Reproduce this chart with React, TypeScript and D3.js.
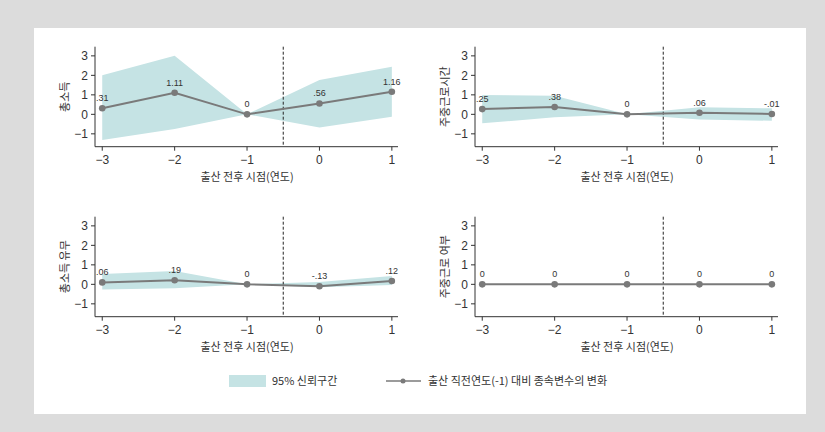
import React from "react";
import * as d3 from "d3";

const years = [-3, -2, -1, 0, 1];
const yTicks = [-1, 0, 1, 2, 3];
const xTicks = [-3, -2, -1, 0, 1];

const titles = ["총소득", "주중근로시간", "총소득 유무", "주중근로 여부"];
const values1 = [0.31, 1.11, 0, 0.56, 1.16];
const lower1 = [-1.32, -0.75, 0, -0.67, -0.12];
const upper1 = [2.01, 3.0, 0, 1.76, 2.44];
const labels1 = [".31", "1.11", "0", ".56", "1.16"];

const values2 = [0.27, 0.38, 0, 0.08, 0.02];
const lower2 = [-0.46, -0.15, 0, -0.26, -0.33];
const upper2 = [0.99, 0.95, 0, 0.36, 0.31];
const labels2 = [".25", ".38", "0", ".06", "-.01"];

const values3 = [0.1, 0.21, 0, -0.1, 0.17];
const lower3 = [-0.26, -0.2, 0, -0.15, -0.04];
const upper3 = [0.53, 0.68, 0, 0.12, 0.43];
const labels3 = [".06", ".19", "0", "-.13", ".12"];

const values4 = [0, 0, 0, 0, 0];
const lower4 = [-0.02, -0.02, 0, -0.02, -0.02];
const upper4 = [0.02, 0.02, 0, 0.02, 0.02];
const labels4 = ["0", "0", "0", "0", "0"];

const panels = [
  { title: titles[0], values: values1, lower: lower1, upper: upper1, labels: labels1 },
  { title: titles[1], values: values2, lower: lower2, upper: upper2, labels: labels2 },
  { title: titles[2], values: values3, lower: lower3, upper: upper3, labels: labels3 },
  { title: titles[3], values: values4, lower: lower4, upper: upper4, labels: labels4 },
];

const legendBand = "95% 신뢰구간";
const legendLine = "출산 직전연도(-1) 대비 종속변수의 변화";
const xTitle = "출산 전후 시점(연도)";

const FONT = "'Noto Sans CJK KR', 'Noto Sans', sans-serif";
const NUMFONT = "'Liberation Sans', Arial, sans-serif";
const BAND = "#c5e3e4";
const LINE = "#7a7a7a";
const AXIS = "#333";

function Panel({ p, ox, oy }: { p: any; ox: number; oy: number }) {
  const x = d3.scaleLinear().domain([-3.1, 1.085]).range([ox, ox + 303]);
  const y = d3.scaleLinear().domain([-1.66, 3.47]).range([oy, oy - 100]);
  const area = d3
    .area<number>()
    .x((_, i) => x(years[i]))
    .y0((_, i) => y(p.lower[i]))
    .y1((_, i) => y(p.upper[i]));
  const line = d3
    .line<number>()
    .x((_, i) => x(years[i]))
    .y((d) => y(d));
  const y0 = y.range()[1];
  return (
    <g>
      <path d={area(p.values) || ""} fill={BAND} />
      <line x1={x(-0.5)} x2={x(-0.5)} y1={y0} y2={oy} stroke="#222" strokeWidth={1} strokeDasharray="3,2" />
      <path d={line(p.values) || ""} fill="none" stroke={LINE} strokeWidth={2} />
      {p.values.map((v: number, i: number) => (
        <circle key={i} cx={x(years[i])} cy={y(v)} r={3.3} fill={LINE} />
      ))}
      {p.values.map((v: number, i: number) => (
        <text key={"l" + i} x={x(years[i])} y={y(v) - 7} fontSize={9} textAnchor="middle" fill="#333" fontFamily={NUMFONT}>
          {p.labels[i]}
        </text>
      ))}
      <line x1={ox} x2={ox} y1={y0} y2={oy} stroke={AXIS} strokeWidth={1} />
      <line x1={ox} x2={x.range()[1]} y1={oy} y2={oy} stroke={AXIS} strokeWidth={1} />
      {yTicks.map((t) => (
        <g key={"y" + t}>
          <line x1={ox - 4} x2={ox} y1={y(t)} y2={y(t)} stroke={AXIS} />
          <text x={ox - 7} y={y(t)} dy="0.35em" textAnchor="end" fontSize={12} fill="#333" fontFamily={NUMFONT}>
            {t < 0 ? "−" + Math.abs(t) : t}
          </text>
        </g>
      ))}
      {xTicks.map((t) => (
        <g key={"x" + t}>
          <line x1={x(t)} x2={x(t)} y1={oy} y2={oy + 4} stroke={AXIS} />
          <text x={x(t)} y={oy + 17} textAnchor="middle" fontSize={12} fill="#333" fontFamily={NUMFONT}>
            {t < 0 ? "−" + Math.abs(t) : t}
          </text>
        </g>
      ))}
      <text x={(x(-3) + x(1)) / 2} y={oy + 34} textAnchor="middle" fontSize={11} fill="#333" fontFamily={FONT}>
        {xTitle}
      </text>
      <text
        transform={`translate(${ox - 26},${(y0 + oy) / 2}) rotate(-90)`}
        textAnchor="middle"
        fontSize={11}
        fill="#333"
        fontFamily={FONT}
      >
        {p.title}
      </text>
    </g>
  );
}

export default function App() {
  const positions = [
    [95, 146.7],
    [475, 146.7],
    [95, 316.7],
    [475, 316.7],
  ];
  return (
    <div style={{ position: "fixed", left: 0, top: 0 }}>
      <svg width={825} height={432} style={{ display: "block" }}>
        <rect width={825} height={432} fill="#dcdcdc" />
        <rect x={34} y={28} width={772} height={386} fill="#fff" />
        {panels.map((p, i) => (
          <Panel key={i} p={p} ox={positions[i][0]} oy={positions[i][1]} />
        ))}
        <rect x={229} y={375} width={37} height={12} fill={BAND} />
        <text x={272} y={381} dy="0.35em" fontSize={11} fill="#333" fontFamily={FONT}>
          {legendBand}
        </text>
        <line x1={386} x2={421} y1={381} y2={381} stroke={LINE} strokeWidth={1.5} />
        <circle cx={403} cy={381} r={2.5} fill={LINE} />
        <text x={428} y={381} dy="0.35em" fontSize={11} fill="#333" fontFamily={FONT}>
          {legendLine}
        </text>
      </svg>
    </div>
  );
}
